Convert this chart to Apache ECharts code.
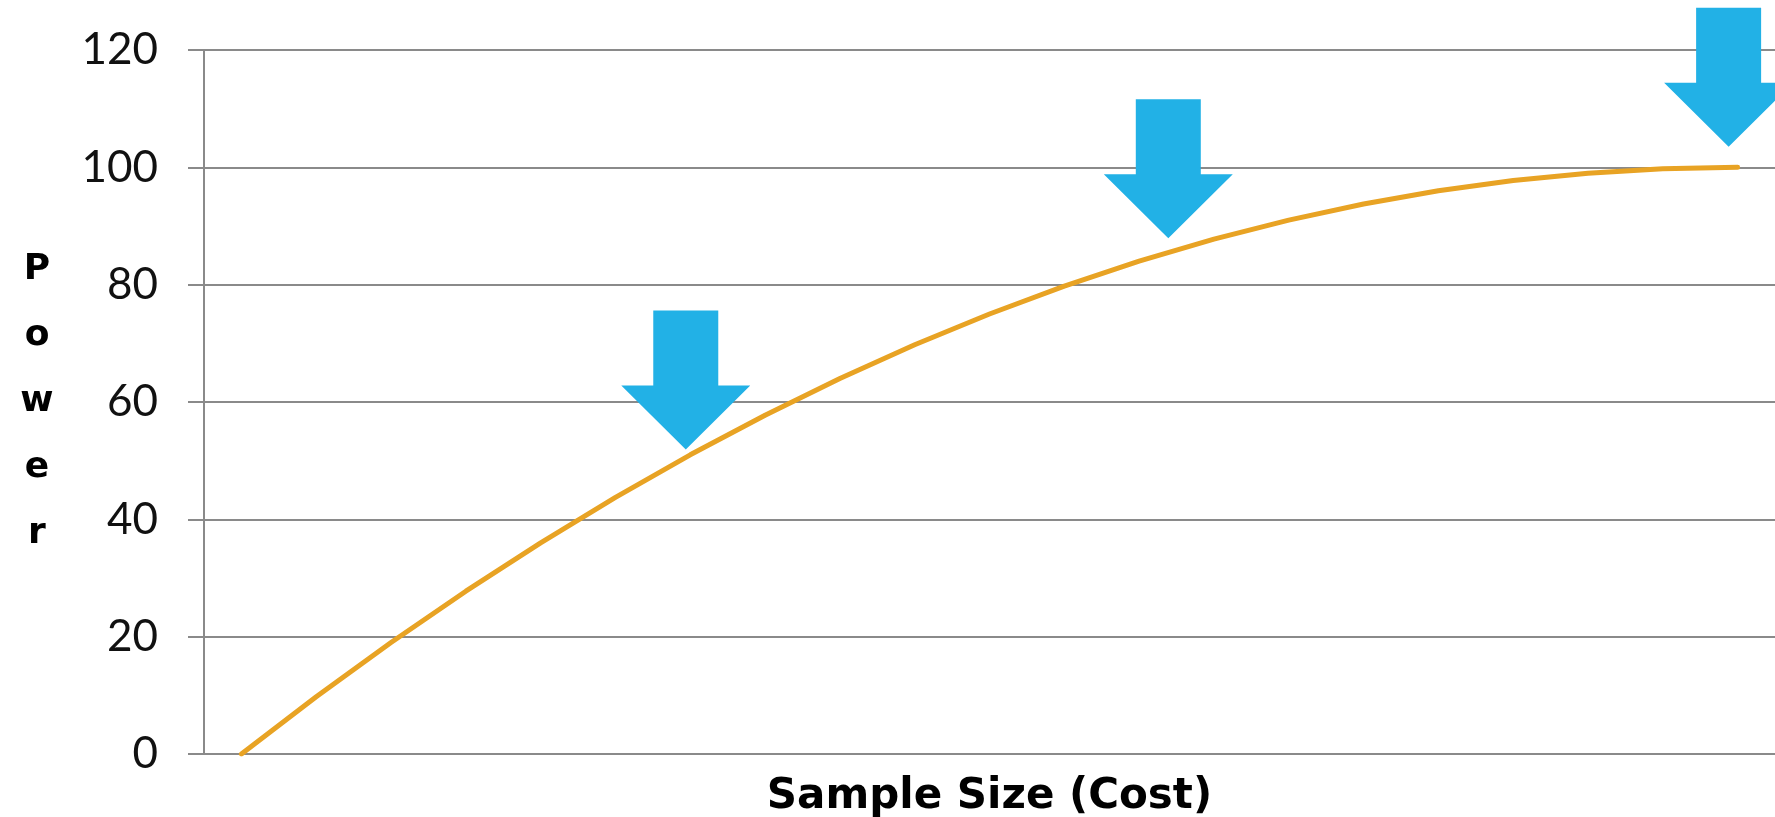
<!DOCTYPE html>
<html>
<head>
<meta charset="utf-8">
<script src="https://cdn.jsdelivr.net/npm/echarts@6/dist/echarts.min.js"></script>
<style>
  html, body { margin: 0; padding: 0; background: #fff; }
  #chart { width: 1775px; height: 817px; }
</style>
</head>
<body>
<div id="chart"></div>
<script>
// Sample size steps along the horizontal axis (no labels drawn)
const sampleSteps = ['1','2','3','4','5','6','7','8','9','10','11','12','13','14','15','16','17','18','19','20','21'];
// Statistical power at each step
const powerValues = [0, 9.75, 19, 27.75, 36, 43.75, 51, 57.75, 64, 69.75, 75, 79.75, 84, 87.75, 91, 93.75, 96, 97.75, 99, 99.75, 100];
// Y axis ticks
const yTicks = [0, 20, 40, 60, 80, 100, 120];
// Downward arrows: tip position as (step index, power)
const arrowStep = [5.94, 12.39, 19.88];
const arrowPower = [51.9, 87.9, 103.5];

const gridColor = '#8a8a8a';
const lineColor = '#E8A324';
const arrowColor = '#22B1E6';
const labelFont = 'Lato, "Noto Sans", sans-serif';
const titleFont = '"DejaVu Sans", sans-serif';

const chart = echarts.init(document.getElementById('chart'));
chart.setOption({
  animation: false,
  backgroundColor: '#ffffff',
  grid: {
    left: 204, right: 0, top: 50, bottom: 63,
    containLabel: false,
    outerBoundsMode: 'none'
  },
  xAxis: [
    {
      type: 'category',
      data: sampleSteps,
      boundaryGap: true,
      name: 'Sample Size (Cost)',
      nameLocation: 'middle',
      nameGap: 43,
      nameTextStyle: {
        fontFamily: titleFont, fontWeight: 'bold', fontSize: 42,
        color: '#000', verticalAlign: 'middle'
      },
      axisLine: { show: true, lineStyle: { color: gridColor, width: 2 } },
      axisTick: { show: false },
      axisLabel: { show: false },
      splitLine: { show: false }
    },
    {
      type: 'value',
      min: -0.5,
      max: sampleSteps.length - 0.5,
      show: false
    }
  ],
  yAxis: {
    type: 'value',
    min: yTicks[0],
    max: yTicks[yTicks.length - 1],
    interval: 20,
    name: 'P\no\nw\ne\nr',
    nameLocation: 'middle',
    nameRotate: 0,
    nameGap: 167,
    nameTextStyle: {
      fontFamily: titleFont, fontWeight: 'bold', fontSize: 36,
      color: '#000', align: 'center', verticalAlign: 'middle',
      lineHeight: 66, padding: [22, 0, 0, 0]
    },
    axisLine: { show: true, onZero: false, lineStyle: { color: gridColor, width: 2 } },
    axisTick: { show: true, length: 16, lineStyle: { color: gridColor, width: 2 } },
    axisLabel: {
      margin: 46,
      fontFamily: labelFont, fontWeight: 'normal', fontSize: 44, color: '#111'
    },
    splitLine: { show: true, lineStyle: { color: gridColor, width: 2 } }
  },
  series: [
    {
      type: 'line',
      data: powerValues,
      xAxisIndex: 0,
      showSymbol: false,
      symbol: 'none',
      lineStyle: { color: lineColor, width: 5, cap: 'round', join: 'round' },
      z: 2
    },
    {
      type: 'scatter',
      xAxisIndex: 1,
      clip: false,
      data: arrowStep.map((s, i) => [s, arrowPower[i]]),
      symbol: 'path://M32,0 L97,0 L97,75 L129,75 L64.5,139 L0,75 L32,75 Z',
      symbolSize: [129, 139],
      symbolOffset: [0, -69.5],
      itemStyle: { color: arrowColor, opacity: 1 },
      z: 3
    }
  ]
});
</script>
</body>
</html>
